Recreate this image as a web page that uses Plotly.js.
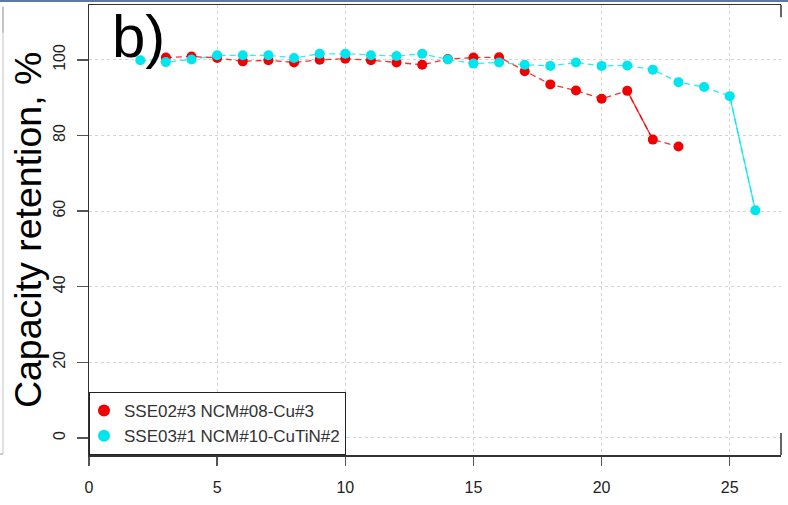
<!DOCTYPE html>
<html>
<head>
<meta charset="utf-8">
<script src="https://cdn.plot.ly/plotly-3.0.1.min.js"></script>
<style>
  html, body { margin: 0; padding: 0; background: #fff; }
  #chart { width: 788px; height: 505px; }
</style>
</head>
<body>
<div id="chart"></div>
<script>
// Capacity retention per cycle for two cells
const cyclesA = [3, 4, 5, 6, 7, 8, 9, 10, 11, 12, 13, 14, 15, 16, 17, 18, 19, 20, 21, 22, 23];
const retentionA = [100.6, 100.9, 100.5, 99.6, 99.9, 99.3, 100.0, 100.3, 99.9, 99.3, 98.7, 100.2,
                    100.6, 100.7, 97.0, 93.5, 91.9, 89.7, 91.8, 78.9, 77.1];
const cyclesB = [2, 3, 4, 5, 6, 7, 8, 9, 10, 11, 12, 13, 14, 15, 16, 17, 18, 19, 20, 21, 22, 23, 24, 25, 26];
const retentionB = [99.9, 99.4, 100.1, 101.2, 101.2, 101.2, 100.5, 101.6, 101.6, 101.2, 101.0, 101.6,
                    100.1, 99.0, 99.3, 98.7, 98.4, 99.3, 98.4, 98.5, 97.4, 94.1, 92.8, 90.4, 60.2];
const nameA = 'SSE02#3 NCM#08-Cu#3';
const nameB = 'SSE03#1 NCM#10-CuTiN#2';
const xTicks = [0, 5, 10, 15, 20, 25];
const yTicks = [0, 20, 40, 60, 80, 100];

const redCol = '#f00000';
const cyanCol = '#00e5ee';
const font = 'Liberation Sans, Arial, Helvetica, sans-serif';

// indices of the last segment drawn solid in each series
const solidA = [cyclesA.indexOf(21), cyclesA.indexOf(22) + 1];
const solidB = [cyclesB.indexOf(25), cyclesB.indexOf(26) + 1];

function series(xs, ys, col, name, solid) {
  return [
    { x: xs, y: ys, type: 'scatter', mode: 'lines', showlegend: false, hoverinfo: 'skip',
      line: { color: col, width: 1.3, dash: '6px,4px' }, opacity: 0.8 },
    { x: xs.slice(solid[0], solid[1]), y: ys.slice(solid[0], solid[1]), type: 'scatter',
      mode: 'lines', showlegend: false, hoverinfo: 'skip',
      line: { color: col, width: 1.3 }, opacity: 0.8 },
    { x: xs, y: ys, type: 'scatter', mode: 'markers', name: name,
      marker: { color: col, size: 10, line: { width: 0 } } }
  ];
}

const data = [
  ...series(cyclesA, retentionA, redCol, nameA, solidA),
  ...series(cyclesB, retentionB, cyanCol, nameB, solidB)
];

const axisCommon = {
  showgrid: true, gridcolor: '#d4d4d4', griddash: 'dot', gridwidth: 1,
  zeroline: false, showline: true, linecolor: '#333', linewidth: 1.5,
  ticks: 'outside', tickcolor: '#555', tickwidth: 1.5,
  tickfont: { family: font, size: 16, color: '#222' }
};

const layout = {
  width: 788, height: 505,
  margin: { l: 89, r: 7, t: 5, b: 50 },
  paper_bgcolor: '#fff', plot_bgcolor: '#fff',
  showlegend: true,
  xaxis: Object.assign({}, axisCommon, {
    range: [0, 27], tickvals: xTicks, ticktext: xTicks.map(String),
    ticklen: 9, mirror: true, ticklabelstandoff: 8
  }),
  yaxis: Object.assign({}, axisCommon, {
    range: [-4.5, 114.5], tickvals: yTicks, ticktext: yTicks.map(String),
    ticklen: 11, tickangle: -90, ticklabelstandoff: 5,
    tickfont: { family: font, size: 16, color: '#222' }
  }),
  legend: {
    x: 0, y: 0, xanchor: 'left', yanchor: 'bottom',
    bgcolor: '#fff', bordercolor: '#222', borderwidth: 1,
    font: { family: font, size: 17, color: '#333' },
    tracegroupgap: 0, itemsizing: 'constant', indentation: -6
  },
  annotations: [
    { text: 'Capacity retention, %', xref: 'paper', yref: 'paper',
      x: -0.088, y: 0.5, xanchor: 'center', yanchor: 'middle', textangle: -90,
      showarrow: false, font: { family: font, size: 37.5, color: '#000' } },
    { text: 'b)', xref: 'paper', yref: 'paper',
      x: 0.03, y: 0.93, xanchor: 'left', yanchor: 'middle',
      showarrow: false, font: { family: font, size: 60, color: '#000' } }
  ],
  shapes: [
    // window edge at the top
    { type: 'line', xref: 'paper', yref: 'paper', x0: -0.13, x1: 1.02, y0: 1.0088, y1: 1.0088,
      line: { color: '#5a7aa0', width: 2 } },
    // right frame pieces
    { type: 'line', xref: 'paper', yref: 'paper', x0: 1, x1: 1, y0: 1, y1: 0.973,
      line: { color: '#333', width: 1.5 } },
    { type: 'line', xref: 'paper', yref: 'paper', x0: 1, x1: 1, y0: 0.049, y1: 0,
      line: { color: '#333', width: 1.5 } },
    // neighbouring panel edge on the left
    { type: 'line', xref: 'paper', yref: 'paper', x0: -0.1243, x1: -0.1243, y0: 0.996, y1: 0.938,
      line: { color: '#888', width: 1 } },
    { type: 'line', xref: 'paper', yref: 'paper', x0: -0.1243, x1: -0.1243, y0: 0.938, y1: 0.002,
      line: { color: '#c4c4c4', width: 1 } },
    { type: 'line', xref: 'paper', yref: 'paper', x0: -0.1286, x1: -0.1243, y0: 0.002, y1: 0.002,
      line: { color: '#999', width: 1 } }
  ]
};

Plotly.newPlot('chart', data, layout, { displayModeBar: false, staticPlot: true });
</script>
</body>
</html>
